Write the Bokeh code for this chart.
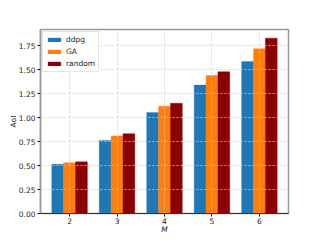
from bokeh.plotting import figure
from bokeh.models import ColumnDataSource, Range1d, FixedTicker, Legend, LegendItem, CustomJSTickFormatter
from bokeh.embed import file_html
from bokeh.resources import INLINE

M = [2, 3, 4, 5, 6]
ddpg = [0.513, 0.763, 1.055, 1.34, 1.586]
ga = [0.53, 0.81, 1.118, 1.44, 1.72]
rnd = [0.54, 0.833, 1.15, 1.48, 1.83]
names = ["ddpg", "GA", "random"]
colors = ["#1f77b4", "#ff7f0e", "#8b0000"]
yticks = [0, 0.25, 0.5, 0.75, 1.0, 1.25, 1.5, 1.75]
width = 0.25

p = figure(width=320, height=240, output_backend="svg", toolbar_location=None,
           x_range=Range1d(1.3875, 6.6125), y_range=Range1d(0, 1.92),
           min_border_left=40, min_border_right=32, min_border_top=29, min_border_bottom=27)

items = []
for k, (name, vals, c) in enumerate(zip(names, [ddpg, ga, rnd], colors)):
    off = (k - 1) * width
    src = ColumnDataSource(dict(x=[m + off for m in M], top=vals))
    r = p.vbar(x="x", top="top", width=width, bottom=0, source=src,
               fill_color=c, line_color=c, line_alpha=0.35, line_width=1)
    items.append(LegendItem(label=name, renderers=[r]))

legend = Legend(items=items, location="top_left", label_text_font="DejaVu Sans",
                label_text_font_size="7.5px", glyph_width=16, glyph_height=5,
                label_height=7, spacing=3, padding=3, margin=2,
                border_line_color="#cccccc", background_fill_alpha=0.9,
                label_standoff=4, label_text_color="#222222")
p.add_layout(legend)

p.xaxis.ticker = FixedTicker(ticks=M)
p.yaxis.ticker = FixedTicker(ticks=yticks)
p.yaxis.formatter = CustomJSTickFormatter(code="return tick.toFixed(2);")

for ax in (p.xaxis[0], p.yaxis[0]):
    ax.major_label_text_font = "DejaVu Sans"
    ax.major_label_text_font_size = "7.5px"
    ax.major_label_text_color = "#222222"
    ax.axis_label_text_font = "DejaVu Sans"
    ax.axis_label_text_font_size = "7.5px"
    ax.axis_label_text_font_style = "normal"
    ax.axis_label_text_color = "#222222"
    ax.minor_tick_line_color = None
    ax.major_tick_out = 3
    ax.major_tick_in = 0
    ax.major_label_standoff = 1
    ax.axis_label_standoff = -2

p.yaxis.major_label_standoff = 2
p.xaxis.axis_label = "M"
p.xaxis.axis_label_text_font_style = "italic"
p.yaxis.axis_label = "AoI"
p.xaxis.axis_line_color = "#333333"
p.yaxis.axis_line_color = "#999999"
p.yaxis.axis_line_width = 1.5
p.outline_line_color = "#999999"
p.outline_line_width = 1.5

for g in (p.xgrid[0], p.ygrid[0]):
    g.grid_line_color = "#cccccc"
    g.grid_line_dash = "2 2"
    g.grid_line_alpha = 0.8
    g.level = "overlay"

open("out.html", "w").write(file_html(p, INLINE))
